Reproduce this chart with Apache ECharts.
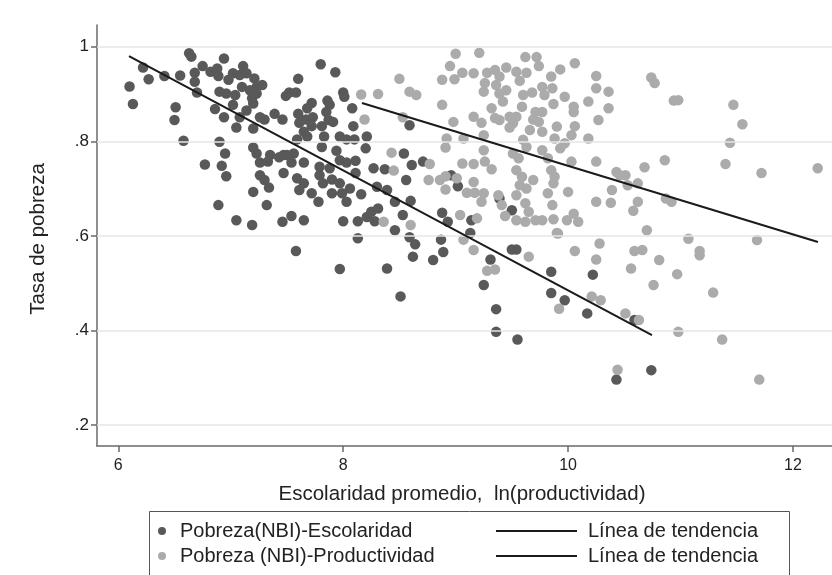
<!DOCTYPE html>
<html><head><meta charset="utf-8">
<script src="https://cdn.jsdelivr.net/npm/echarts@6/dist/echarts.min.js"></script>
<style>html,body{margin:0;padding:0;background:#fff}#c{width:832px;height:575px}</style>
</head><body><div id="c"></div>
<script>
// Pobreza(NBI) vs Escolaridad promedio (dark points)
const escolaridadPoints = [
[6.10,0.916],[6.13,0.879],[6.22,0.956],[6.27,0.931],[6.41,0.938],[6.55,0.939],[6.51,0.872],[6.50,0.845],[6.63,0.986],[6.65,0.979],[6.58,0.801],[6.68,0.945],[6.68,0.926],[6.70,0.903],[6.75,0.959],[6.82,0.947],[6.88,0.954],[6.94,0.975],[6.89,0.938],[6.98,0.930],[7.02,0.944],[7.11,0.959],[7.08,0.940],[7.14,0.944],[7.21,0.933],[6.90,0.905],[6.96,0.901],[7.04,0.898],[7.10,0.915],[7.17,0.908],[7.23,0.915],[7.19,0.891],[7.02,0.877],[6.86,0.868],[7.14,0.865],[6.94,0.851],[7.08,0.851],[7.05,0.829],[7.20,0.827],[6.90,0.799],[6.95,0.774],[7.20,0.787],
[6.77,0.751],[6.92,0.748],[6.96,0.726],[6.89,0.665],[7.05,0.633],[7.19,0.623],[7.20,0.693],[7.32,0.665],[7.46,0.630],[7.54,0.642],[7.65,0.633],[8.00,0.631],[8.13,0.631],[8.21,0.640],[8.25,0.651],[8.28,0.631],[8.13,0.595],[7.58,0.568],[7.97,0.530],[8.39,0.531],
[7.28,0.919],[7.23,0.901],[7.20,0.880],[7.26,0.851],[7.30,0.846],[7.80,0.963],[7.93,0.946],[7.60,0.932],[7.52,0.903],[7.58,0.903],[7.49,0.896],[8.00,0.903],[8.01,0.894],[7.72,0.881],[7.86,0.886],[7.88,0.877],[7.68,0.870],[8.08,0.870],[7.39,0.858],[7.46,0.846],[7.60,0.858],[7.85,0.862],[7.67,0.846],[7.73,0.851],[7.61,0.839],[7.72,0.832],[7.81,0.832],[7.91,0.841],[7.87,0.845],[8.09,0.832],[7.65,0.820],[7.68,0.810],[7.59,0.804],[7.83,0.810],[7.97,0.810],[8.03,0.804],[8.10,0.804],[8.21,0.810],[7.81,0.788],[7.94,0.780],[8.20,0.785],[8.59,0.834],[8.54,0.774],[7.23,0.774],[7.35,0.771],[7.47,0.771],[7.56,0.774],
[7.26,0.755],[7.33,0.757],[7.43,0.766],[7.50,0.771],[7.54,0.755],[7.47,0.733],[7.26,0.728],[7.30,0.718],[7.34,0.702],[7.65,0.755],[7.79,0.746],[7.88,0.743],[7.97,0.760],[8.03,0.755],[8.11,0.759],[7.79,0.728],[7.59,0.722],[7.65,0.711],[7.61,0.697],[7.82,0.711],[7.90,0.719],[7.97,0.711],[8.11,0.733],[7.72,0.690],[7.78,0.672],[7.90,0.690],[7.99,0.690],[8.06,0.700],[8.03,0.672],[8.16,0.688],[8.31,0.658],[8.27,0.743],[8.30,0.704],[8.39,0.697],[8.46,0.672],[8.53,0.644],[8.56,0.718],[8.61,0.750],[8.60,0.674],[8.46,0.612],[8.59,0.597],[8.64,0.582],[8.62,0.556],[8.37,0.741],
[8.71,0.757],[8.88,0.649],[8.93,0.630],[9.14,0.633],[9.13,0.606],[8.87,0.592],[8.89,0.566],[8.80,0.549],[9.31,0.550],[9.50,0.571],[9.54,0.571],[9.50,0.654],[9.39,0.679],[9.02,0.705],[8.96,0.728],
[8.51,0.472],[9.25,0.496],[9.36,0.445],[9.36,0.397],[9.55,0.381],[9.85,0.524],[9.85,0.479],[9.97,0.464],[10.17,0.436],[10.22,0.518],[10.43,0.296],[10.74,0.316],[10.59,0.422]
];
// Pobreza (NBI) vs ln(productividad) (light points)
const productividadPoints = [
[8.50,0.932],[8.16,0.899],[8.31,0.900],[8.59,0.905],[8.65,0.898],[8.19,0.846],[8.53,0.851],[8.43,0.776],[8.45,0.738],[8.36,0.630],[8.60,0.623],
[9.00,0.985],[9.21,0.987],[8.95,0.959],[9.06,0.945],[9.16,0.944],[8.99,0.931],[8.88,0.930],[8.88,0.877],[8.98,0.841],[8.92,0.806],[8.91,0.787],[9.07,0.806],[9.16,0.852],[9.23,0.839],[9.25,0.813],[9.26,0.923],[9.25,0.905],[9.28,0.945],[9.35,0.951],[9.45,0.956],[9.39,0.937],[9.36,0.919],[9.45,0.908],[9.42,0.884],[9.32,0.870],[9.35,0.849],[9.39,0.845],[9.48,0.852],[9.51,0.838],[9.48,0.829],[9.54,0.947],[9.63,0.945],[9.62,0.978],[9.72,0.978],[9.74,0.959],[9.57,0.928],[9.60,0.898],[9.68,0.903],[9.77,0.915],[9.85,0.937],[9.86,0.912],[9.93,0.952],[10.06,0.965],[9.79,0.898],[9.59,0.873],[9.54,0.852],[9.71,0.862],[9.77,0.862],[9.69,0.846],[9.74,0.841],[9.87,0.879],[9.97,0.894],[10.05,0.873],[10.05,0.862],[10.18,0.884],[10.25,0.938],[10.25,0.912],[10.36,0.905],[10.36,0.870],[10.27,0.845],[10.18,0.806],[10.06,0.832],[10.03,0.813],[9.90,0.831],[9.88,0.806],[9.97,0.796],[9.77,0.820],[9.66,0.824],[9.60,0.803],[9.63,0.788],[9.77,0.781],[9.93,0.785],[9.51,0.774],[9.25,0.781],[9.39,0.901],
[8.77,0.752],[9.06,0.753],[9.16,0.752],[9.26,0.757],[9.32,0.741],[8.76,0.718],[8.86,0.718],[8.91,0.726],[8.91,0.698],[9.01,0.722],[9.16,0.714],[9.10,0.691],[9.17,0.691],[9.25,0.690],[9.23,0.672],[9.38,0.686],[9.41,0.665],[9.44,0.642],[9.04,0.644],[9.19,0.637],[9.07,0.592],[9.16,0.570],[9.54,0.633],[9.62,0.630],[9.71,0.633],[9.77,0.633],[9.87,0.635],[9.99,0.633],[10.09,0.630],[10.05,0.647],[9.90,0.606],[9.56,0.764],[9.54,0.739],[9.59,0.725],[9.57,0.707],[9.63,0.700],[9.69,0.718],[9.54,0.686],[9.62,0.669],[9.65,0.651],[9.82,0.764],[9.85,0.739],[9.88,0.725],[9.87,0.711],[9.82,0.690],[9.86,0.665],[10.00,0.693],[10.03,0.757],[10.25,0.757],[10.43,0.735],[10.39,0.697],[10.25,0.672],[10.38,0.670],[10.28,0.584],[10.06,0.568],[10.25,0.550],[9.65,0.556],
[9.28,0.526],[9.35,0.529],[9.91,0.605],[9.92,0.446],[10.21,0.472],[10.29,0.464],[10.51,0.436],[10.63,0.422],[10.44,0.317],[10.70,0.612],[10.56,0.531],[10.59,0.568],[10.66,0.570],[10.76,0.496],[10.81,0.549],[10.97,0.519],[10.98,0.397],
[11.07,0.594],[11.17,0.568],[11.17,0.559],[11.29,0.480],[11.68,0.591],[11.37,0.381],[11.70,0.296],
[10.74,0.935],[10.77,0.923],[10.94,0.886],[10.98,0.887],[11.47,0.877],[11.55,0.836],[11.44,0.797],[11.40,0.752],[11.72,0.733],[12.22,0.743],[10.86,0.760],[10.68,0.745],[10.46,0.728],[10.51,0.728],[10.53,0.707],[10.62,0.711],[10.62,0.672],[10.58,0.653],[10.87,0.679],[10.92,0.672]
];
// Fitted trend lines (endpoints)
const trendEscolaridadX = [6.095, 10.746];
const trendEscolaridadY = [0.980, 0.390];
const trendProductividadX = [8.167, 12.222];
const trendProductividadY = [0.881, 0.587];
// Ticks
const xTicks = [6, 8, 10, 12];
const yTicks = [0.2, 0.4, 0.6, 0.8, 1];
const yTickLabels = ['.2', '.4', '.6', '.8', '1'];
const xTitle = 'Escolaridad promedio,  ln(productividad)';
const yTitle = 'Tasa de pobreza';
const legendLabels = ['Pobreza(NBI)-Escolaridad', 'Pobreza (NBI)-Productividad', 'Línea de tendencia', 'Línea de tendencia'];

const FONT = 'Liberation Sans, Arial, sans-serif';
const DARK = '#595959', LIGHT = '#ababab';
const chart = echarts.init(document.getElementById('c'), null, {renderer: 'canvas'});

const option = {
  animation: false,
  backgroundColor: '#fff',
  grid: {left: 97, right: 0, top: 25, bottom: 129, containLabel: false},
  xAxis: {
    type: 'value', min: 5.8106, max: 12.347,
    axisLine: {show: true, onZero: false, lineStyle: {color: '#6a6a6a', width: 1.5}},
    axisTick: {show: true, customValues: xTicks, length: 6, lineStyle: {color: '#6a6a6a', width: 1.5}},
    axisLabel: {show: true, customValues: xTicks, color: '#222', fontSize: 16, fontFamily: FONT, margin: 12},
    splitLine: {show: false}
  },
  yAxis: {
    type: 'value', min: 0.1556, max: 1.0459,
    axisLine: {show: true, onZero: false, lineStyle: {color: '#6a6a6a', width: 1.5}},
    axisTick: {show: true, customValues: yTicks, length: 6, lineStyle: {color: '#6a6a6a', width: 1.5}},
    axisLabel: {show: true, customValues: yTicks, color: '#222', fontSize: 17, fontFamily: FONT, margin: 8,
      formatter: v => { const i = yTicks.findIndex(t => Math.abs(t - v) < 1e-6); return i >= 0 ? yTickLabels[i] : ''; }},
    splitLine: {show: false}
  },
  series: [
    {
      name: 'grid', type: 'line', data: [], silent: true,
      markLine: {silent: true, symbol: 'none', label: {show: false},
        lineStyle: {color: '#e6e6e6', width: 1.5, type: 'solid'},
        data: yTicks.map(v => ({yAxis: v}))}
    },
    {name: legendLabels[0], type: 'scatter', data: escolaridadPoints, symbolSize: 10.5,
      itemStyle: {color: DARK, opacity: 1}, z: 3},
    {name: legendLabels[1], type: 'scatter', data: productividadPoints, symbolSize: 10.5,
      itemStyle: {color: LIGHT, opacity: 1}, z: 4},
    {name: 'tendencia1', type: 'line', data: trendEscolaridadX.map((x, i) => [x, trendEscolaridadY[i]]),
      symbol: 'none', lineStyle: {color: '#1a1a1a', width: 2}, z: 6},
    {name: 'tendencia2', type: 'line', data: trendProductividadX.map((x, i) => [x, trendProductividadY[i]]),
      symbol: 'none', lineStyle: {color: '#1a1a1a', width: 2}, z: 6}
  ],
  graphic: [
    {type: 'text', x: 462, y: 494, style: {text: xTitle, fontSize: 20.5, fontFamily: FONT, fill: '#222', align: 'center', verticalAlign: 'middle'}},
    {type: 'text', x: 38, y: 239, rotation: Math.PI / 2, style: {text: yTitle, fontSize: 20.5, fontFamily: FONT, fill: '#222', align: 'center', verticalAlign: 'middle'}},
    {type: 'rect', shape: {x: 149.5, y: 511.5, width: 640, height: 100}, style: {fill: '#fff', stroke: '#555', lineWidth: 1}},
    {type: 'circle', shape: {cx: 162, cy: 531, r: 4}, style: {fill: DARK}},
    {type: 'circle', shape: {cx: 162, cy: 556, r: 4}, style: {fill: LIGHT}},
    {type: 'text', x: 180, y: 531, style: {text: legendLabels[0], fontSize: 20, fontFamily: FONT, fill: '#222', verticalAlign: 'middle'}},
    {type: 'text', x: 180, y: 556, style: {text: legendLabels[1], fontSize: 20, fontFamily: FONT, fill: '#222', verticalAlign: 'middle'}},
    {type: 'line', shape: {x1: 496, y1: 531, x2: 577, y2: 531}, style: {stroke: '#1a1a1a', lineWidth: 2}},
    {type: 'line', shape: {x1: 496, y1: 556, x2: 577, y2: 556}, style: {stroke: '#1a1a1a', lineWidth: 2}},
    {type: 'text', x: 588, y: 531, style: {text: legendLabels[2], fontSize: 20, fontFamily: FONT, fill: '#222', verticalAlign: 'middle'}},
    {type: 'text', x: 588, y: 556, style: {text: legendLabels[3], fontSize: 20, fontFamily: FONT, fill: '#222', verticalAlign: 'middle'}}
  ]
};
chart.setOption(option);
</script>
</body></html>
